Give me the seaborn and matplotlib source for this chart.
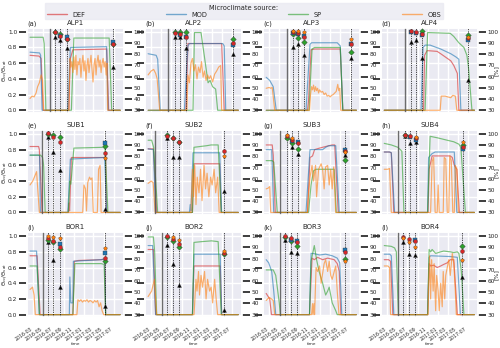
import numpy as np
import pandas as pd
import matplotlib
matplotlib.use("Agg")
import matplotlib.pyplot as plt
import matplotlib.dates as mdates
from matplotlib.lines import Line2D
import seaborn as sns

# ---------------- data (time in months since 2016-03-01) ----------------
SITES = ["ALP1", "ALP2", "ALP3", "ALP4", "SUB1", "SUB2", "SUB3", "SUB4",
         "BOR1", "BOR2", "BOR3", "BOR4"]
TAGS = ["(a)", "(b)", "(c)", "(d)", "(e)", "(f)", "(g)", "(h)", "(i)", "(j)", "(k)", "(l)"]
SOURCES = ["DEF", "MOD", "SP", "OBS"]

ALP1_DEF = [(-0.6, .70), (1.2, .69), (1.6, .66), (2.0, 0), (7.1, 0), (7.35, .65), (7.9, .77), (14.6, .78), (15.0, 0), (17.3, 0)]
ALP1_MOD = [(-0.6, .74), (1.3, .73), (1.5, .70), (1.8, 0), (6.9, 0), (7.4, .80), (14.6, .81), (14.9, 0), (17.3, 0)]
ALP1_SP = [(-0.6, .93), (2.0, .93), (2.2, .85), (2.55, 0), (7.6, 0), (8.1, .92), (15.1, .92), (15.6, 0), (17.3, 0)]
ALP1_OBS = [(-0.6, .15), (-0.2, .18), (0.2, .17), (0.6, .22), (0.9, .30), (1.25, .35), (1.6, .45), (1.9, .38), (2.1, 0),
            (7.1, 0), (7.2, .30), (7.35, .66), (7.5, .55), (7.7, .62), (7.9, .48), (8.1, .68), (8.3, .52), (8.5, .70),
            (8.7, .45), (8.9, .62), (9.1, .58), (9.3, .66), (9.5, .42), (9.7, .60), (9.9, .70), (10.1, .50), (10.3, .63),
            (10.5, .38), (10.7, .57), (10.9, .66), (11.1, .48), (11.3, .60), (11.5, .70), (11.7, .52), (11.9, .36),
            (12.1, .58), (12.3, .66), (12.5, .45), (12.7, .62), (12.9, .70), (13.1, .55), (13.3, .64), (13.5, .48),
            (13.7, .60), (13.9, .66), (14.1, .55), (14.3, .62), (14.5, .45), (14.65, .60), (14.8, 0), (17.3, 0)]

ALP2_DEF = [(-0.6, 0), (6.9, 0), (7.3, .85), (14.0, .85), (14.5, 0), (17.3, 0)]
ALP2_MOD = [(-0.6, .72), (1.0, .70), (1.3, .65), (1.8, 0), (6.6, 0), (7.3, .82), (7.6, .85), (14.2, .85), (14.5, .82), (14.8, 0), (17.3, 0)]
ALP2_SP = [(-0.6, 0), (8.3, 0), (8.6, .99), (9.9, .99), (11.3, .35), (11.7, .38), (12.2, .30), (12.8, .27), (13.2, 0), (17.3, 0)]
ALP2_OBS = [(-0.6, .45), (0.0, .50), (0.5, .52), (0.9, .47), (1.2, .40), (1.7, 0), (7.1, 0), (7.3, .45), (7.6, .35),
            (7.9, .60), (8.2, .66), (8.5, .50), (8.8, .58), (9.1, .40), (9.4, .55), (9.7, .48), (10.0, .62), (10.3, .42),
            (10.6, .50), (10.9, .38), (11.2, .45), (11.5, .40), (11.8, .44), (12.2, .36), (12.6, .46), (13.0, .50),
            (13.4, .55), (13.8, .57), (14.0, 0), (17.3, 0)]

ALP3_DEF = [(-0.6, 0), (7.6, 0), (7.8, .12), (8.3, .77), (9.0, .78), (14.1, .78), (14.6, 0), (17.3, 0)]
ALP3_MOD = [(-0.6, .42), (0.1, .38), (0.8, .30), (1.4, 0), (7.3, 0), (8.1, .84), (8.4, .86), (13.5, .86), (14.1, .82), (14.6, 0), (17.3, 0)]
ALP3_SP = [(-0.6, 0), (7.9, 0), (8.5, .78), (9.0, .80), (14.1, .80), (14.6, 0), (17.3, 0)]
ALP3_OBS = [(-0.6, .28), (0.0, .29), (0.3, .28), (0.6, .29), (1.1, 0), (8.0, 0), (8.2, .20), (8.4, .30), (8.6, .26),
            (8.8, .32), (9.0, .24), (9.2, .30), (9.4, .25), (9.6, .28), (9.8, .22), (10.0, .26), (10.3, .23), (10.6, .24),
            (10.9, .20), (11.2, .22), (11.5, .18), (11.8, .19), (12.1, .17), (12.4, .19), (12.7, .20), (13.0, .22),
            (13.3, .24), (13.6, .33), (13.8, .25), (14.0, .28), (14.2, 0), (17.3, 0)]

ALP4_DEF = [(-0.6, 0), (7.2, 0), (7.4, .70), (7.9, .76), (9.9, .75), (10.6, .72), (12.6, .63), (13.2, .57), (13.9, .47), (14.2, 0), (17.3, 0)]
ALP4_MOD = [(-0.6, 0), (6.7, 0), (7.1, .80), (7.5, .83), (8.5, .83), (10.6, .78), (12.6, .72), (13.6, .68), (14.2, .65), (14.6, 0), (17.3, 0)]
ALP4_SP = [(-0.6, 0), (7.5, 0), (8.0, .99), (12.5, .98), (13.2, .94), (14.2, .86), (15.2, .80), (15.8, .70), (16.1, .55), (16.8, 0), (17.3, 0)]
ALP4_OBS = [(-0.6, 0), (10.5, 0), (10.7, .18), (11.5, .18), (12.0, .17), (12.6, .16), (13.0, .19), (13.5, .18), (13.8, 0), (17.3, 0)]

SUB1_DEF = [(-0.6, .84), (1.1, .84), (1.25, .80), (1.8, 0), (7.0, 0), (7.1, .12), (7.25, .02), (7.6, .70), (14.2, .70), (14.4, .74), (14.6, 0), (17.3, 0)]
SUB1_MOD = [(-0.6, .73), (1.1, .73), (1.3, .72), (1.45, 0), (6.9, 0), (7.4, .68), (14.2, .70), (14.6, 0), (17.3, 0)]
SUB1_SP = [(-0.6, .73), (1.5, .73), (1.9, .70), (2.1, .60), (2.4, 0), (7.0, 0), (7.3, .40), (7.5, .36), (8.1, .82), (14.0, .83), (14.3, .80), (14.85, 0), (17.3, 0)]
SUB1_OBS = [(-0.6, .35), (-0.06, .40), (0.26, .45), (0.7, .52), (1.25, 0), (9.85, 0), (10.1, .35), (10.4, .30), (10.6, .02),
            (10.85, .38), (11.2, .45), (11.45, .42), (11.7, .44), (11.95, 0), (12.75, 0), (13.0, .55), (13.3, .60), (13.5, 0), (17.3, 0)]

SUB2_DEF = [(-0.6, .81), (0.45, .81), (1.1, 0), (8.2, 0), (8.5, .62), (13.6, .62), (13.9, 0), (17.3, 0)]
SUB2_MOD = [(-0.6, .81), (0.45, .80), (0.9, 0), (7.6, 0), (7.75, .10), (7.9, .02), (8.3, .76), (13.6, .76), (14.0, 0), (17.3, 0)]
SUB2_SP = [(-0.6, .92), (0.1, .92), (0.5, .83), (1.3, 0), (8.2, 0), (8.5, .83), (11.0, .85), (11.9, .86), (13.3, .86), (13.9, 0), (17.3, 0)]
SUB2_OBS = [(-0.6, .37), (0.0, .40), (0.4, .38), (0.8, 0), (7.9, 0), (8.2, .55), (8.4, .20), (8.65, .60), (8.9, .10),
            (9.15, .45), (9.5, .25), (9.8, .55), (10.1, .15), (10.5, .60), (10.8, .30), (11.1, .50), (11.45, .20),
            (11.8, .45), (12.1, .35), (12.5, .55), (12.8, .25), (13.2, .45), (13.5, 0), (17.3, 0)]

SUB3_DEF = [(-0.6, .86), (0.6, .86), (0.8, .73), (1.2, 0), (7.6, 0), (8.1, .70), (8.6, .72), (9.0, .80), (10.0, .82), (11.2, .84), (12.5, .86), (13.0, .86), (13.7, 0), (17.3, 0)]
SUB3_MOD = [(-0.6, .80), (0.5, .80), (0.9, 0), (7.3, 0), (8.1, .80), (10.6, .80), (11.2, .83), (11.8, .85), (13.2, .85), (13.9, 0), (17.3, 0)]
SUB3_SP = [(-0.6, .66), (0.6, .66), (0.9, .64), (1.6, 0), (7.8, 0), (8.3, .35), (8.8, .53), (9.3, .55), (12.9, .55), (13.3, 0), (17.3, 0)]
SUB3_OBS = [(-0.6, .30), (-0.2, .31), (0.1, .33), (0.3, 0), (7.6, 0), (7.7, .15), (8.1, .45), (8.5, .60), (8.8, .40),
            (9.2, .60), (9.4, .20), (9.8, .55), (10.3, .62), (10.6, .55), (10.9, .30), (11.2, .58), (11.6, .60),
            (11.9, .35), (12.2, .55), (12.5, .30), (12.8, .58), (13.2, 0), (17.3, 0)]

SUB4_DEF = [(-0.6, .77), (0.4, .77), (0.8, .76), (1.3, 0), (8.1, 0), (8.3, .55), (8.9, .72), (12.5, .72), (12.9, .70), (13.3, .60), (13.8, .55), (14.3, 0), (17.3, 0)]
SUB4_MOD = [(-0.6, .77), (0.5, .77), (0.8, .76), (1.45, 0), (8.0, 0), (8.2, .70), (8.9, .75), (9.5, .77), (13.3, .77), (13.8, 0), (17.3, 0)]
SUB4_SP = [(-0.6, .88), (0.8, .86), (2.1, .83), (2.9, .78), (3.3, 0), (8.0, 0), (8.5, .97), (10.0, .95), (11.9, .92), (13.2, .90), (14.2, .87), (14.6, .83), (15.5, 0), (17.3, 0)]
SUB4_OBS = [(-0.6, .55), (0.1, .55), (0.45, .56), (0.8, 0), (8.6, 0), (8.9, .65), (9.2, .70), (9.5, 0), (9.9, 0), (10.1, .35),
            (10.3, 0), (11.1, 0), (11.3, .70), (11.6, .68), (11.9, 0), (12.2, 0), (12.4, .72), (12.7, .66), (13.0, 0),
            (13.3, 0), (13.5, .60), (13.8, .55), (14.1, 0), (17.3, 0)]

BOR1_DEF = [(-0.6, .75), (0.8, .75), (1.4, 0), (7.9, 0), (8.2, .68), (9.0, .69), (13.5, .70), (14.2, .71), (14.4, 0), (17.3, 0)]
BOR1_MOD = [(-0.6, .81), (0.7, .81), (1.25, 0), (7.2, 0), (7.3, .48), (7.5, .15), (7.9, .15), (8.0, .68), (13.5, .70), (14.2, .71), (14.4, 0), (17.3, 0)]
BOR1_SP = [(-0.6, .62), (0.8, .62), (1.25, 0), (7.9, 0), (8.3, .65), (13.5, .65), (14.1, .64), (14.4, 0), (17.3, 0)]
BOR1_OBS = [(-0.6, .32), (-0.1, .35), (0.2, .25), (0.45, 0), (8.7, 0), (8.9, .19), (9.2, .17), (9.5, .19), (9.8, .16),
            (10.1, .18), (10.4, .17), (10.7, .19), (11.0, .16), (11.3, .18), (11.6, .17), (11.9, .15), (12.2, .18),
            (12.5, .16), (12.8, .18), (13.1, .10), (13.4, .15), (13.7, .05), (14.0, 0), (17.3, 0)]

BOR2_DEF = [(-0.6, .83), (0.45, .83), (0.9, 0), (8.2, 0), (8.5, .62), (13.7, .62), (14.0, 0), (17.3, 0)]
BOR2_MOD = [(-0.6, .88), (0.3, .88), (0.9, 0), (8.2, 0), (8.5, .77), (13.7, .77), (14.0, 0), (17.3, 0)]
BOR2_SP = [(-0.6, .99), (0.45, .99), (0.7, .80), (1.1, 0), (8.2, 0), (8.5, .92), (10.0, .93), (12.0, .94), (13.3, .93), (13.9, 0), (17.3, 0)]
BOR2_OBS = [(-0.6, .23), (0.1, .30), (0.65, .45), (1.1, 0), (8.5, 0), (8.6, .10), (8.9, .45), (9.1, .30), (9.4, .55),
            (9.6, .25), (9.9, .50), (10.2, .35), (10.6, .55), (10.9, .20), (11.2, .45), (11.6, .30), (11.9, .35),
            (12.2, .15), (12.6, .45), (12.9, .20), (13.2, 0), (17.3, 0)]

BOR3_DEF = [(-0.6, .27), (0.1, .20), (0.45, 0), (8.0, 0), (8.5, .72), (8.95, .70), (9.6, .73), (10.6, .70), (11.6, .72), (12.9, .70), (13.5, .65), (13.9, .55), (14.2, 0), (17.3, 0)]
BOR3_MOD = [(-0.6, .70), (-0.1, .66), (0.5, .55), (0.9, .30), (1.3, 0), (8.0, 0), (8.3, .78), (8.7, .78), (10.0, .76), (11.2, .77), (12.5, .75), (13.5, .72), (14.0, .66), (14.4, 0), (17.3, 0)]
BOR3_SP = [(-0.6, .57), (0.8, .57), (1.3, .50), (2.0, .15), (2.2, 0), (8.0, 0), (8.3, .68), (8.95, .88), (9.4, .70), (9.9, .55),
           (10.6, .40), (11.2, .25), (11.6, .30), (11.9, .35), (12.2, .25), (12.5, .15), (13.2, .05), (13.5, 0), (17.3, 0)]
BOR3_OBS = [(-0.6, .18), (0.0, .22), (0.45, .20), (0.8, .18), (1.1, 0), (8.4, 0), (8.6, .14), (8.7, 0), (8.9, .14), (9.0, 0),
            (9.3, .60), (9.6, .55), (10.0, .62), (10.3, .40), (10.9, .65), (11.2, .70), (11.6, .55), (11.9, .68),
            (12.2, .50), (12.5, .45), (12.9, .55), (13.2, .62), (13.5, .30), (13.85, 0), (17.3, 0)]

BOR4_DEF = [(-0.6, .70), (0.25, .70), (0.65, .68), (1.1, 0), (8.0, 0), (8.3, .65), (8.6, .62), (9.2, .63), (9.9, .60), (10.6, .62), (11.2, .64), (11.9, .66), (12.5, .70), (13.2, .70), (13.9, 0), (17.3, 0)]
BOR4_MOD = [(-0.6, .77), (0.5, .77), (0.8, .75), (1.3, 0), (8.0, 0), (8.3, .73), (8.6, .75), (12.5, .74), (13.9, .73), (14.5, 0), (17.3, 0)]
BOR4_SP = [(-0.6, .88), (0.8, .87), (1.45, .85), (1.8, .80), (2.2, 0), (8.0, 0), (8.3, .83), (8.6, .80), (8.9, .83), (9.6, .78),
           (10.6, .80), (11.2, .81), (12.5, .80), (13.2, .79), (13.9, .80), (14.2, .78), (14.5, .65), (14.7, .55), (15.2, 0), (17.3, 0)]
BOR4_OBS = [(-0.6, .62), (0.1, .62), (0.45, .60), (0.65, 0), (8.1, 0), (8.2, .35), (8.4, .75), (8.6, .20), (8.8, .70),
            (9.1, .30), (9.3, .65), (9.6, .05), (9.8, .50), (10.1, .30), (10.3, .05), (10.6, .40), (10.9, .10),
            (11.1, .55), (11.4, .20), (11.6, .50), (11.9, .60), (12.2, .70), (12.5, .50), (12.9, .78), (13.2, .65),
            (13.5, .30), (13.7, 0), (17.3, 0)]

# solid reference line and sampling dates (months since 2016-03-01)
SOLID = [3.4, 3.4, 3.6, 3.5, 1.76, 0.7, 2.2, 2.2, 1.9, 2.1, 2.2, 2.2]
SAMPLES = [[4.3, 5.4, 6.75, 15.95], [4.7, 5.7, 6.9, 16.3], [4.7, 5.7, 6.9, 16.2], [4.7, 5.75, 6.9, 16.1],
           [3.0, 4.05, 5.3, 14.3], [3.2, 4.25, 5.5, 14.5], [3.5, 4.6, 5.7, 15.0], [3.5, 4.6, 5.7, 15.0],
           [3.0, 4.05, 5.35, 14.3], [3.2, 4.25, 5.5, 14.5], [3.2, 4.4, 5.55, 15.0], [3.2, 4.4, 5.55, 14.8]]

nan = np.nan
# per sampling date: [measured, DEF, MOD, SP, OBS] in %
ALP1_MARKS = [[95.3, 100, nan, 99.4, nan], [92.4, 96.3, 96.5, 97.7, nan], [85.4, 93.6, 95.3, 93.3, nan], [68.5, 89.5, 91, 89, nan]]
ALP2_MARKS = [[95, 99, nan, 100, nan], [95, 98, 97.5, 100, nan], [85.4, 95.5, 95, 100, nan], [80, 90.4, 88.6, 93.3, nan]]
ALP3_MARKS = [[86.5, 100, 99, 97.6, 101], [89.5, 99, 98, 94.7, 101], [79.5, 95.6, 96, 91.2, 100], [76.4, 88.9, 89.5, 82.2, 93.3]]
ALP4_MARKS = [[91, 100.5, 99.5, nan, nan], [92.7, 100, 99, nan, nan], [76.7, 97.7, 97.5, 100.6, nan], [57.4, 94, 92.4, 96.8, 95]]
SUB1_MARKS = [[97, 100.6, nan, 100, nan], [83.8, 97.6, nan, 99.4, nan], [67.6, 93.2, nan, 97.6, nan], [33.2, 82.9, 91.7, 89.7, 78.5]]
SUB2_MARKS = [[96.4, 98.5, nan, 99, nan], [79.4, 96.4, nan, 96, nan], [79.4, 92.6, nan, 93, nan], [49, 84.7, nan, nan, 80]]
SUB3_MARKS = [[97, 98, nan, 96, 98.8], [88.6, 95, 94, 91.5, 96], [82, 91.5, 92.4, 86.6, nan], [81.3, 84.8, 85.5, 77, 84.3]]
SUB4_MARKS = [[98.5, 99.5, nan, 99, nan], [91.5, 98, 97, nan, nan], [92.4, 96, 95, nan, 97.4], [nan, 88.6, 86.6, 90, 93]]
BOR1_MARKS = [[94.8, 98.5, nan, 97, 100], [79, 95.6, nan, 95, 99.4], [55, 90.7, 92.7, 88.3, 98.5], [37.9, 80.2, 85.4, 78, 89.8]]
BOR2_MARKS = [[91.8, 100, nan, 99, nan], [75.2, 97.7, nan, 95.6, 99.4], [56.8, 92.7, nan, 90.7, 97], [34.4, 84.8, nan, 84, 86.9]]
BOR3_MARKS = [[96.5, 100, nan, 98.8, nan], [85.8, 98.2, 97, 95.3, nan], [85.2, 94.4, 96, 91.6, nan], [nan, 85.8, 87.2, 80, 78]]
BOR4_MARKS = [[94.5, 99.4, nan, nan, 98.5], [84.3, 97.3, nan, nan, 94.5], [82.9, 96, 96.5, nan, 90.7], [63.2, 86.6, nan, 91.6, 78.6]]

# ---------------- assemble tables ----------------
LINES = {
    "ALP1": [ALP1_DEF, ALP1_MOD, ALP1_SP, ALP1_OBS], "ALP2": [ALP2_DEF, ALP2_MOD, ALP2_SP, ALP2_OBS],
    "ALP3": [ALP3_DEF, ALP3_MOD, ALP3_SP, ALP3_OBS], "ALP4": [ALP4_DEF, ALP4_MOD, ALP4_SP, ALP4_OBS],
    "SUB1": [SUB1_DEF, SUB1_MOD, SUB1_SP, SUB1_OBS], "SUB2": [SUB2_DEF, SUB2_MOD, SUB2_SP, SUB2_OBS],
    "SUB3": [SUB3_DEF, SUB3_MOD, SUB3_SP, SUB3_OBS], "SUB4": [SUB4_DEF, SUB4_MOD, SUB4_SP, SUB4_OBS],
    "BOR1": [BOR1_DEF, BOR1_MOD, BOR1_SP, BOR1_OBS], "BOR2": [BOR2_DEF, BOR2_MOD, BOR2_SP, BOR2_OBS],
    "BOR3": [BOR3_DEF, BOR3_MOD, BOR3_SP, BOR3_OBS], "BOR4": [BOR4_DEF, BOR4_MOD, BOR4_SP, BOR4_OBS],
}
MARKS = {"ALP1": ALP1_MARKS, "ALP2": ALP2_MARKS, "ALP3": ALP3_MARKS, "ALP4": ALP4_MARKS,
         "SUB1": SUB1_MARKS, "SUB2": SUB2_MARKS, "SUB3": SUB3_MARKS, "SUB4": SUB4_MARKS,
         "BOR1": BOR1_MARKS, "BOR2": BOR2_MARKS, "BOR3": BOR3_MARKS, "BOR4": BOR4_MARKS}

T0 = pd.Timestamp("2016-03-01")


def to_date(months):
    return T0 + pd.to_timedelta(np.asarray(months, dtype=float) * 30.44, unit="D")


COLORS = {"DEF": "#d62728", "MOD": "#1f77b4", "SP": "#2ca02c", "OBS": "#ff7f0e"}
MARKER_STYLE = [("^", "black"), ("o", "#d62728"), ("s", "#1f77b4"), ("D", "#2ca02c"), ("p", "#ff7f0e")]
MARKER_ORDER = [0, 3, 2, 1, 4]

sns.set_theme(style="darkgrid")
plt.rcParams["font.family"] = ["DejaVu Sans"]

fig, axes = plt.subplots(3, 4, figsize=(5.0, 3.48), dpi=100, sharex=True, sharey=True)
fig.subplots_adjust(left=0.054, right=0.956, top=0.92, bottom=0.088, wspace=0.22, hspace=0.2)

xlo, xhi = to_date([-1.2, 18.0])

for k, site in enumerate(SITES):
    ax = axes.flat[k]
    r, c = divmod(k, 4)
    for src, series in zip(SOURCES, LINES[site]):
        arr = np.array(series, dtype=float)
        sns.lineplot(x=to_date(arr[:, 0]), y=arr[:, 1], ax=ax, color=COLORS[src],
                     lw=0.85, alpha=0.6, estimator=None, sort=False)
    ax.axvline(to_date([SOLID[k]])[0], color="#555555", lw=1.0, alpha=0.85, zorder=3)
    for s in SAMPLES[k]:
        ax.axvline(to_date([s])[0], color="black", lw=0.6, ls=(0, (1.5, 1.2)), alpha=0.8, zorder=3)
    ax.set_ylim(-0.035, 1.05)
    ax.set_yticks([0, 0.2, 0.4, 0.6, 0.8, 1.0])
    ax.set_xlim(xlo, xhi)
    ax.xaxis.set_major_locator(mdates.MonthLocator(bymonth=[1, 3, 5, 7, 9, 11]))
    ax.xaxis.set_major_formatter(mdates.DateFormatter("%Y-%m"))
    ax.tick_params(axis="both", labelsize=4.2, pad=1.0)
    ax.set_xlabel("time", fontsize=3, labelpad=0.5)
    ax.set_ylabel("")
    ax.set_title(site, fontsize=5, pad=2)
    ax.set_title(TAGS[k], fontsize=4.8, pad=2, loc="left")
    if c == 0:
        ax.set_ylabel(r"$\Theta_{cc}/\Theta_{sat}$", fontsize=4)
        ax.yaxis.set_label_coords(-0.185, 0.5)
    if r == 2:
        for lab in ax.get_xticklabels():
            lab.set_rotation(35)
            lab.set_ha("right")
            lab.set_fontsize(3.4)
        ax.tick_params(axis="x", pad=0.3)

    ax2 = ax.twinx()
    ax2.grid(False)
    ax2.set_ylim(30 + 70 * -0.035, 30 + 70 * 1.05)
    ax2.set_yticks(range(30, 101, 10))
    ax2.tick_params(axis="y", labelsize=4.2, pad=1.0)
    dates = to_date(SAMPLES[k])
    marks = np.array(MARKS[site], dtype=float)
    for j in MARKER_ORDER:
        m, col = MARKER_STYLE[j]
        sns.scatterplot(x=dates, y=marks[:, j], ax=ax2, marker=m, color=col, s=8,
                        edgecolor="#333333", linewidth=0.25, zorder=5, legend=False)
    ax2.set_ylabel("")
    if c == 3:
        ax2.set_ylabel("[%]", fontsize=4.5)
        ax2.yaxis.set_label_coords(1.165, 0.5)

handles = [Line2D([0], [0], color=COLORS[s], lw=1.0, alpha=0.6) for s in SOURCES]
leg = fig.legend(handles, SOURCES, loc="upper left", ncol=4, mode="expand",
                 bbox_to_anchor=(0.09, 0.99, 0.796, 0.0), fontsize=4.8,
                 title="Microclimate source:", title_fontsize=4.8, frameon=True,
                 handlelength=3.0, borderpad=0.25, labelspacing=0.1, handletextpad=0.8,
                 borderaxespad=0.0)
leg.get_frame().set_facecolor("#EAEAF2")
leg.get_frame().set_edgecolor("#EAEAF2")
leg.get_frame().set_boxstyle("square", pad=0)

fig.savefig("out.png", dpi=100)
